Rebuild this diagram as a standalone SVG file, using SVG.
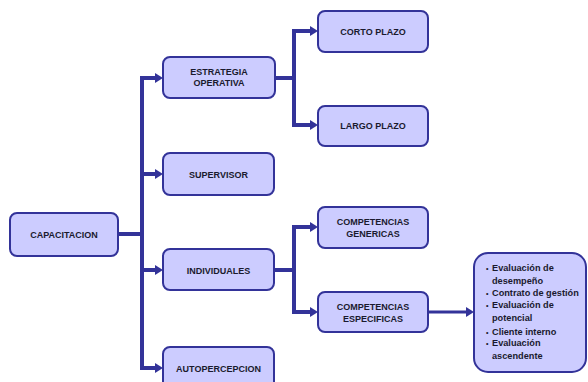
<svg xmlns="http://www.w3.org/2000/svg" width="588" height="382" viewBox="0 0 588 382">
  <style>
    .box { fill: #ccccff; stroke: #333399; stroke-width: 2; }
    .lbl { font-family: "Liberation Sans", Arial, sans-serif; font-weight: bold; font-size: 9px; fill: #1a1a2e; text-anchor: middle; }
    .lst { font-family: "Liberation Sans", Arial, sans-serif; font-weight: bold; font-size: 9.2px; fill: #1a1a2e; }
    .dot { font-size: 7px; }
    .wire { fill: none; stroke: #333399; stroke-width: 4; stroke-linejoin: miter; }
    .thin { fill: none; stroke: #333399; stroke-width: 3; }
  </style>
  <defs>
    <marker id="head" viewBox="0 0 8 10" markerWidth="8" markerHeight="10" refX="1" refY="5" markerUnits="userSpaceOnUse" orient="auto">
      <path d="M0,0 L8,5 L0,10 z" fill="#333399"/>
    </marker>
  </defs>

  <rect width="588" height="382" fill="#ffffff"/>

  <!-- connectors -->
  <g id="connectors">
    <path class="wire" d="M118,234 H142"/>
    <path class="wire" d="M142,76 V370"/>
    <path class="wire" d="M140,78 H156" marker-end="url(#head)"/>
    <path class="wire" d="M142,174 H156" marker-end="url(#head)"/>
    <path class="wire" d="M142,270 H156" marker-end="url(#head)"/>
    <path class="wire" d="M140,368 H156" marker-end="url(#head)"/>

    <path class="wire" d="M275,78 H294"/>
    <path class="wire" d="M294,29 V127"/>
    <path class="wire" d="M292,31 H311" marker-end="url(#head)"/>
    <path class="wire" d="M292,125 H311" marker-end="url(#head)"/>

    <path class="wire" d="M275,270 H294"/>
    <path class="wire" d="M294,225 V314"/>
    <path class="wire" d="M292,227 H311" marker-end="url(#head)"/>
    <path class="wire" d="M292,312 H311" marker-end="url(#head)"/>

    <path class="thin" d="M428,312 H467" marker-end="url(#head)"/>
  </g>

  <g id="capacitacion">
    <rect class="box" x="10" y="213" width="108" height="43" rx="7"/>
    <text class="lbl" x="64" y="237.5">CAPACITACION</text>
  </g>

  <g id="estrategia">
    <rect class="box" x="163" y="57" width="112" height="41" rx="7"/>
    <text class="lbl" x="219" y="75">ESTRATEGIA</text>
    <text class="lbl" x="219" y="86">OPERATIVA</text>
  </g>

  <g id="supervisor">
    <rect class="box" x="163" y="153" width="111" height="42" rx="7"/>
    <text class="lbl" x="218.5" y="177.5">SUPERVISOR</text>
  </g>

  <g id="individuales">
    <rect class="box" x="163" y="249" width="111" height="41" rx="7"/>
    <text class="lbl" x="218.5" y="273.5">INDIVIDUALES</text>
  </g>

  <g id="autopercepcion">
    <rect class="box" x="163" y="347" width="111" height="42" rx="7"/>
    <text class="lbl" x="218.5" y="371.5">AUTOPERCEPCION</text>
  </g>

  <g id="corto-plazo">
    <rect class="box" x="318" y="11" width="110" height="41" rx="7"/>
    <text class="lbl" x="373" y="35">CORTO PLAZO</text>
  </g>

  <g id="largo-plazo">
    <rect class="box" x="318" y="106" width="110" height="40" rx="7"/>
    <text class="lbl" x="373" y="129">LARGO PLAZO</text>
  </g>

  <g id="genericas">
    <rect class="box" x="318" y="207" width="110" height="41" rx="7"/>
    <text class="lbl" x="373" y="225">COMPETENCIAS</text>
    <text class="lbl" x="373" y="237">GENERICAS</text>
  </g>

  <g id="especificas">
    <rect class="box" x="318" y="292" width="110" height="40" rx="7"/>
    <text class="lbl" x="373" y="310">COMPETENCIAS</text>
    <text class="lbl" x="373" y="322">ESPECIFICAS</text>
  </g>

  <g id="evaluaciones">
    <rect class="box" x="474" y="253" width="112" height="119" rx="14"/>
    <g class="lst">
      <text class="dot" x="486" y="271">•</text><text x="492" y="271">Evaluación de</text>
      <text x="492" y="284">desempeño</text>
      <text class="dot" x="486" y="296">•</text><text x="492" y="296">Contrato de gestión</text>
      <text class="dot" x="486" y="308">•</text><text x="492" y="308">Evaluación de</text>
      <text x="492" y="321">potencial</text>
      <text class="dot" x="486" y="335">•</text><text x="492" y="335">Cliente interno</text>
      <text class="dot" x="486" y="346">•</text><text x="492" y="346">Evaluación</text>
      <text x="492" y="359">ascendente</text>
    </g>
  </g>
</svg>
